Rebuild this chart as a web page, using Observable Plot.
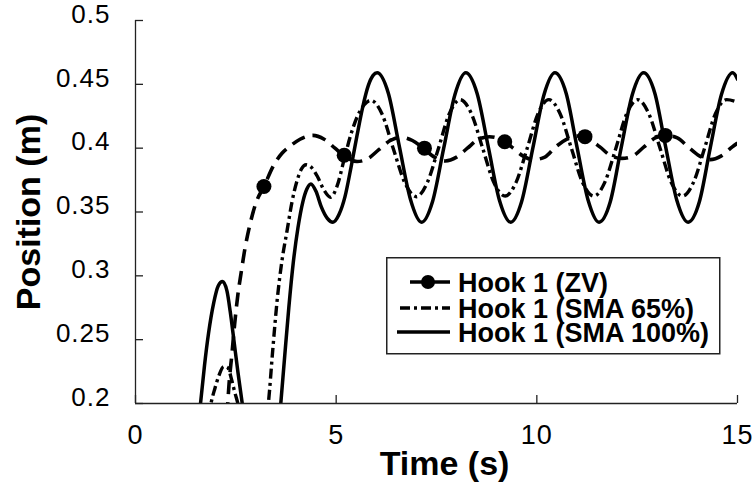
<!DOCTYPE html>
<html><head><meta charset="utf-8">
<script src="https://cdn.jsdelivr.net/npm/d3@7"></script>
<script src="https://cdn.jsdelivr.net/npm/@observablehq/plot@0.6"></script>
<style>
html,body{margin:0;padding:0;background:#fff;}
#wrap{position:relative;width:755px;height:482px;}
#legend{position:absolute;left:386px;top:257px;}
g[aria-label="y-axis tick label"] text, g[aria-label="x-axis tick label"] text{letter-spacing:1px;}
</style></head><body><div id="wrap"></div>
<script>
const seriesNames = ["Hook 1 (ZV)", "Hook 1 (SMA 65%)", "Hook 1 (SMA 100%)"];

// Hook 1 (ZV) — dashed line
const zvTime = [2.28,2.33,2.40,2.47,2.55,2.63,2.72,2.85,3.0,3.2,3.45,3.65,3.87,4.1,4.42,4.7,4.97,5.24,5.52,5.8,6.07,6.35,6.62,6.9,7.17,7.45,7.72,8.0,8.27,8.55,8.82,9.1,9.37,9.65,9.92,10.2,10.47,10.75,11.02,11.3,11.57,11.85,12.12,12.4,12.67,12.95,13.22,13.5,13.77,14.05,14.32,14.6,14.87,15.0];
const zvPos  = [0.190,0.215,0.238,0.262,0.285,0.302,0.320,0.340,0.357,0.370,0.387,0.396,0.402,0.407,0.410,0.407,0.400,0.393,0.3895,0.392,0.399,0.406,0.4085,0.406,0.400,0.393,0.390,0.393,0.400,0.407,0.409,0.407,0.401,0.394,0.391,0.393,0.401,0.407,0.4095,0.407,0.401,0.394,0.392,0.394,0.401,0.408,0.410,0.408,0.401,0.394,0.391,0.394,0.401,0.404];
// Hook 1 (ZV) — circle markers
const zvMarkerTime = [3.2, 5.2, 7.2, 9.2, 11.2, 13.2];
const zvMarkerPos  = [0.370, 0.3945, 0.400, 0.405, 0.409, 0.410];

// Hook 1 (SMA 65%) — dash-dot line
const sma65Time = [1.82,1.88,1.98,2.08,2.2,2.3,2.4,2.48,2.55,2.62,2.9,3.25,3.31,3.42,3.53,3.65,3.78,3.9,4.03,4.14,4.25,4.38,4.53,4.7,4.86,5.02,5.19,5.36,5.53,5.7,5.86,6.14,6.42,6.71,7.0,7.27,7.55,7.82,8.09,8.37,8.65,8.93,9.21,9.48,9.76,10.03,10.3,10.58,10.86,11.14,11.42,11.69,11.97,12.24,12.51,12.79,13.07,13.35,13.63,13.9,14.18,14.45,14.73,15.0];
const sma65Pos  = [0.190,0.200,0.212,0.222,0.229,0.228,0.218,0.208,0.200,0.188,0.150,0.185,0.200,0.242,0.281,0.312,0.336,0.358,0.375,0.384,0.387,0.385,0.378,0.367,0.3615,0.370,0.390,0.410,0.425,0.434,0.4375,0.427,0.400,0.373,0.362,0.373,0.400,0.427,0.438,0.427,0.400,0.373,0.3625,0.373,0.400,0.427,0.438,0.427,0.400,0.373,0.3625,0.373,0.400,0.427,0.438,0.427,0.400,0.373,0.3625,0.373,0.400,0.427,0.438,0.436];

// Hook 1 (SMA 100%) — solid line
const sma100Time = [1.56,1.62,1.72,1.82,1.95,2.06,2.17,2.28,2.36,2.45,2.55,2.66,2.72,3.1,3.56,3.62,3.72,3.82,3.93,4.05,4.17,4.27,4.37,4.50,4.63,4.78,4.92,5.07,5.22,5.37,5.52,5.66,5.80,5.92,6.02,6.3,6.57,6.85,7.13,7.4,7.68,7.96,8.23,8.51,8.79,9.07,9.35,9.62,9.9,10.18,10.45,10.73,11.0,11.28,11.55,11.83,12.1,12.38,12.66,12.94,13.21,13.49,13.77,14.05,14.32,14.6,14.88,15.0];
const sma100Pos  = [0.180,0.200,0.230,0.255,0.279,0.292,0.2955,0.288,0.272,0.250,0.225,0.200,0.185,0.120,0.178,0.200,0.238,0.275,0.310,0.338,0.358,0.368,0.372,0.366,0.354,0.345,0.342,0.348,0.362,0.385,0.410,0.432,0.449,0.457,0.459,0.443,0.402,0.360,0.342,0.358,0.400,0.442,0.459,0.443,0.401,0.359,0.342,0.358,0.400,0.442,0.459,0.443,0.401,0.359,0.342,0.358,0.400,0.442,0.459,0.443,0.401,0.359,0.342,0.358,0.400,0.442,0.459,0.454];

const xTickValues = [0, 5, 10, 15];
const xTickLabels = ["0", "5", "10", "15"];
const yTickValues = [0.2, 0.25, 0.3, 0.35, 0.4, 0.45, 0.5];
const yTickLabels = ["0.2", "0.25", "0.3", "0.35", "0.4", "0.45", "0.5"];
const xLabel = "Time (s)";
const yLabel = "Position (m)";

const rows = (ts, ys) => ts.map((t, i) => ({t, y: ys[i]}));
const zv = rows(zvTime, zvPos);
const zvMarkers = rows(zvMarkerTime, zvMarkerPos);
const sma65 = rows(sma65Time, sma65Pos);
const sma100 = rows(sma100Time, sma100Pos);

const font = '"Liberation Sans", Arial, Helvetica, sans-serif';

const chart = Plot.plot({
  width: 755, height: 482,
  marginLeft: 135, marginRight: 18, marginTop: 20, marginBottom: 79,
  style: {fontFamily: font, background: "#fff", color: "#000", overflow: "visible"},
  x: {domain: [0, 15], label: null},
  y: {domain: [0.2, 0.5], label: null},
  marks: [
    Plot.line(sma100, {x: "t", y: "y", stroke: "#000", strokeWidth: 3.5, curve: "monotone-x", clip: true}),
    Plot.line(sma65, {x: "t", y: "y", stroke: "#000", strokeWidth: 3.4, strokeDasharray: "10,4,3,4", strokeLinecap: "butt", curve: "monotone-x", clip: true}),
    Plot.line(zv, {x: "t", y: "y", stroke: "#000", strokeWidth: 3.6, strokeDasharray: "14,8", strokeLinecap: "butt", curve: "monotone-x", clip: true}),
    Plot.dot(zvMarkers, {x: "t", y: "y", r: 7.5, fill: "#000", stroke: "none"}),
    Plot.ruleX([0], {stroke: "#222", strokeWidth: 1.3}),
    Plot.ruleY([0.2], {stroke: "#222", strokeWidth: 1.3}),
    Plot.axisY(yTickValues, {tickSize: -8, fill: "none", stroke: "#222", strokeWidth: 1.3, label: null}),
    Plot.axisX(xTickValues, {tickSize: -8, fill: "none", stroke: "#222", strokeWidth: 1.3, label: null}),
    Plot.axisY(yTickValues, {tickSize: 0, tickPadding: 25, dy: -6, fontSize: 26, fill: "#000",
      tickFormat: d => yTickLabels[yTickValues.indexOf(d)], label: null}),
    Plot.axisX(xTickValues, {tickSize: 0, tickPadding: 21, fontSize: 27, fill: "#000",
      tickFormat: d => xTickLabels[xTickValues.indexOf(d)], label: null}),
    Plot.text([yLabel], {frameAnchor: "left", dx: -106, rotate: -90, textAnchor: "middle", lineAnchor: "middle",
      fontSize: 34, fontWeight: "bold", fill: "#000"}),
    Plot.text([xLabel], {frameAnchor: "bottom", dx: 8, dy: 61, textAnchor: "middle", lineAnchor: "middle",
      fontSize: 34, fontWeight: "bold", fill: "#000"})
  ]
});

const wrap = document.getElementById("wrap");
wrap.appendChild(chart);

// Legend (inside the plot area, drawn as an overlay)
const lg = d3.create("svg").attr("id", "legend").attr("width", 336).attr("height", 99)
  .style("font-family", font);
lg.append("rect").attr("x", 0.75).attr("y", 0.75).attr("width", 333).attr("height", 96)
  .attr("fill", "#fff").attr("stroke", "#222").attr("stroke-width", 1.5);
const rowsY = [25, 51, 75];
const swatchX0 = [24, 14, 11];
const dashes = [null, "10,4,3,4", null];
const widths = [3.5, 3.4, 3.5];
seriesNames.forEach((name, i) => {
  const l = lg.append("line").attr("x1", swatchX0[i]).attr("x2", 64).attr("y1", rowsY[i]).attr("y2", rowsY[i])
    .attr("stroke", "#000").attr("stroke-width", widths[i]);
  if (dashes[i]) l.attr("stroke-dasharray", dashes[i]);
  if (i === 0) lg.append("circle").attr("cx", 42).attr("cy", rowsY[i]).attr("r", 7).attr("fill", "#000");
  lg.append("text").attr("x", 72).attr("y", rowsY[i] + 10).attr("font-size", 27).attr("font-weight", "bold")
    .attr("fill", "#000").text(name);
});
wrap.appendChild(lg.node());
</script>
</body></html>
